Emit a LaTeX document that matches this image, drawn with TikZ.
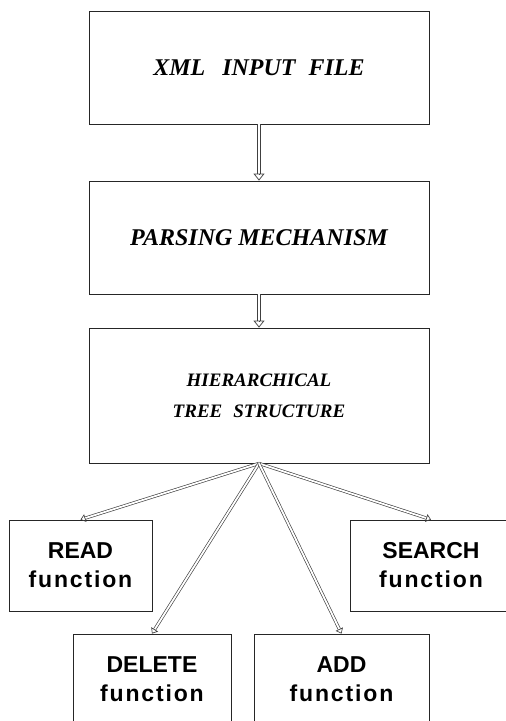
\documentclass[tikz,border=0pt]{standalone}
\usepackage{fontspec}
\setmainfont{Liberation Serif}
\newfontfamily\hsans{Liberation Sans}
\newfontfamily\hsansls[LetterSpace=8]{Liberation Sans}
\usetikzlibrary{arrows.meta,calc}
\begin{document}
\begin{tikzpicture}[x=1pt,y=-1pt,
  bigbox/.style={draw=black!85, line width=0.8pt, minimum width=340pt, inner sep=0pt,
    font=\fontsize{24}{30}\selectfont\bfseries\itshape, align=center},
  smallbox/.style={draw=black!85, line width=0.8pt, minimum height=91pt, inner sep=0pt,
    font=\hsans\fontsize{23}{29}\selectfont\bfseries, align=center},
  shaft/.style={draw=black!75, double=white, double distance=2.8pt, line width=0.75pt, shorten >=7pt},
  bighead/.style={draw=black!75, line width=0.75pt, -{Triangle[open,length=7pt,width=11pt]}},
  fanshaft/.style={draw=black!75, double=white, double distance=1.8pt, line width=0.65pt, shorten >=5pt},
  fanhead/.style={draw=black!75, line width=0.65pt, -{Triangle[open,length=5pt,width=8pt]}}
]
\useasboundingbox (0,0) rectangle (506,721);
\clip (0,0) rectangle (506,721);

\node[bigbox, minimum height=113pt] (b1) at (259,67.5) {XML\hspace{17pt}INPUT\hspace{13pt}FILE};
\node[bigbox, minimum height=113pt] (b2) at (259,237.5) {PARSING MECHANISM};
\node[bigbox, minimum height=135pt, font=\fontsize{19}{31}\selectfont\bfseries\itshape] (b3) at (259,395.5)
  {HIERARCHICAL\\TREE\hspace{11pt}STRUCTURE};

\node[smallbox, minimum width=143pt] (read) at (80.5,565.5) {READ\\{\hsansls function}};
\node[smallbox, minimum width=162pt] (search) at (431,565.5) {SEARCH\\{\hsansls function}};
\node[smallbox, minimum width=158pt] (delete) at (152,679.5) {DELETE\\{\hsansls function}};
\node[smallbox, minimum width=175pt] (add) at (341.5,679.5) {ADD\\{\hsansls function}};

\coordinate (fan) at (b3.south);

\draw[shaft] (b1.south) -- (b2.north);
\draw[bighead] ($(b2.north)!7pt!(b1.south)$) -- (b2.north);
\draw[shaft] (b2.south) -- (b3.north);
\draw[bighead] ($(b3.north)!7pt!(b2.south)$) -- (b3.north);

\foreach \t in {read,search,delete,add}{
  \draw[fanshaft] (fan) -- (\t.north);
  \draw[fanhead] ($(\t.north)!5pt!(fan)$) -- (\t.north);
}
\end{tikzpicture}
\end{document}
